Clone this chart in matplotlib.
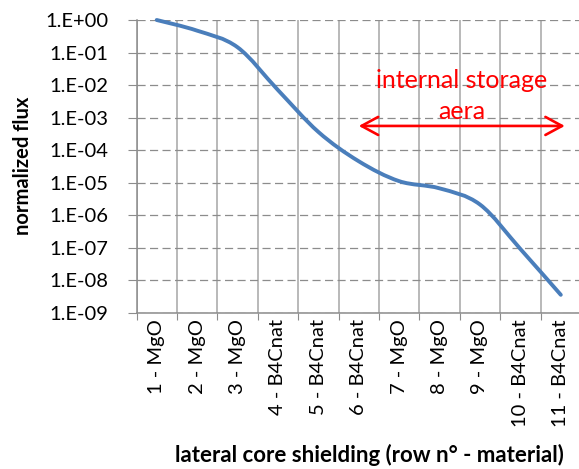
import numpy as np
import matplotlib
matplotlib.use("Agg")
import matplotlib.pyplot as plt
from matplotlib.path import Path
from matplotlib.patches import PathPatch
from matplotlib.ticker import FixedLocator, FuncFormatter, NullFormatter

plt.rcParams['font.family'] = ['Lato', 'DejaVu Sans']

# data
categories = ['1 - MgO', '2 - MgO', '3 - MgO', '4 - B4Cnat', '5 - B4Cnat', '6 - B4Cnat',
              '7 - MgO', '8 - MgO', '9 - MgO', '10 - B4Cnat', '11 - B4Cnat']
flux = [1.0, 0.47, 0.145, 7.0e-3, 3.6e-4, 4.5e-5, 1.1e-5, 6.6e-6, 2.1e-6, 9.0e-8, 3.5e-9]
ytick_values = [10.0 ** -k for k in range(0, 10)]

line_color = '#4A7EBB'
grid_color = '#8C8C8C'


def smooth_path(xs, ys):
    '''Excel-like smoothed line: cubic Bezier segments built in log space'''
    lx = np.asarray(xs, float)
    ly = np.log10(ys)
    n = len(lx)
    verts = [(lx[0], ly[0])]
    codes = [Path.MOVETO]
    for i in range(n - 1):
        p0 = (lx[max(i - 1, 0)], ly[max(i - 1, 0)])
        p1 = (lx[i], ly[i])
        p2 = (lx[i + 1], ly[i + 1])
        p3 = (lx[min(i + 2, n - 1)], ly[min(i + 2, n - 1)])
        c1 = (p1[0] + (p2[0] - p0[0]) / 6, p1[1] + (p2[1] - p0[1]) / 6)
        c2 = (p2[0] - (p3[0] - p1[0]) / 6, p2[1] - (p3[1] - p1[1]) / 6)
        verts += [c1, c2, p2]
        codes += [Path.CURVE4] * 3
    verts = [(x, 10.0 ** y) for x, y in verts]
    return Path(verts, codes)


def main():
    fig = plt.figure(figsize=(5.79, 4.69), dpi=100)
    ax = fig.add_axes([136.5 / 579, 1 - 312.5 / 469, 444.5 / 579, 292.5 / 469])
    ax.set_yscale('log')
    ax.set_xlim(0.5, len(categories) + 0.5)
    ax.set_ylim(1e-9, 1.0)

    xs = np.arange(1, len(categories) + 1)
    ax.add_patch(PathPatch(smooth_path(xs, flux), facecolor='none', edgecolor=line_color,
                           lw=2.8, capstyle='round', joinstyle='round', zorder=3, clip_on=False))

    # y axis
    ax.yaxis.set_major_locator(FixedLocator(ytick_values))
    ax.yaxis.set_minor_locator(FixedLocator([]))
    ax.yaxis.set_major_formatter(FuncFormatter(lambda v, p: '1.E%+03d' % int(round(np.log10(v)))))
    ax.yaxis.grid(True, which='major', color=grid_color, ls=(0, (6.5, 3.5)), lw=0.9)

    # x axis: gridlines between categories, labels at centres
    ax.xaxis.set_major_locator(FixedLocator(np.arange(0.5, len(categories) + 1, 1.0)))
    ax.xaxis.set_major_formatter(NullFormatter())
    ax.xaxis.set_minor_locator(FixedLocator(xs))
    ax.set_xticklabels(categories, minor=True, rotation=90, fontsize=14.5)
    ax.xaxis.grid(True, which='major', color='#A6A6A6', ls='-', lw=1.1)
    ax.tick_params(axis='x', which='major', direction='out', length=5, color=grid_color)
    ax.tick_params(axis='x', which='minor', length=0, pad=5)
    ax.tick_params(axis='y', which='major', direction='out', length=6.5, color=grid_color,
                   labelsize=14.5, pad=13.5)

    for side in ['top', 'right']:
        ax.spines[side].set_visible(False)
    for side in ['left', 'bottom']:
        ax.spines[side].set_color(grid_color)
        ax.spines[side].set_linewidth(1.1)

    ax.set_ylabel('normalized flux', fontsize=14.5, fontweight='bold')
    ax.set_xlabel('lateral core shielding (row n\u00b0 - material)', fontsize=16,
                  fontweight='bold')
    ax.xaxis.set_label_coords(0.523, -0.45)
    ax.yaxis.set_label_coords(-0.233, 0.5)

    # internal storage annotation
    ax.annotate('', xy=(6.0, 5.5e-4), xytext=(11.1, 5.5e-4),
                arrowprops=dict(arrowstyle='<->,head_length=1.2,head_width=0.65',
                                color='red', lw=1.9, shrinkA=0, shrinkB=0))
    ax.text(8.55, 10 ** -2.09, 'internal storage', color='red', fontsize=18,
            ha='center', va='baseline')
    ax.text(8.55, 10 ** -3.05, 'aera', color='red', fontsize=18,
            ha='center', va='baseline')

    fig.savefig('out.png', dpi=100)


if __name__ == '__main__':
    main()
